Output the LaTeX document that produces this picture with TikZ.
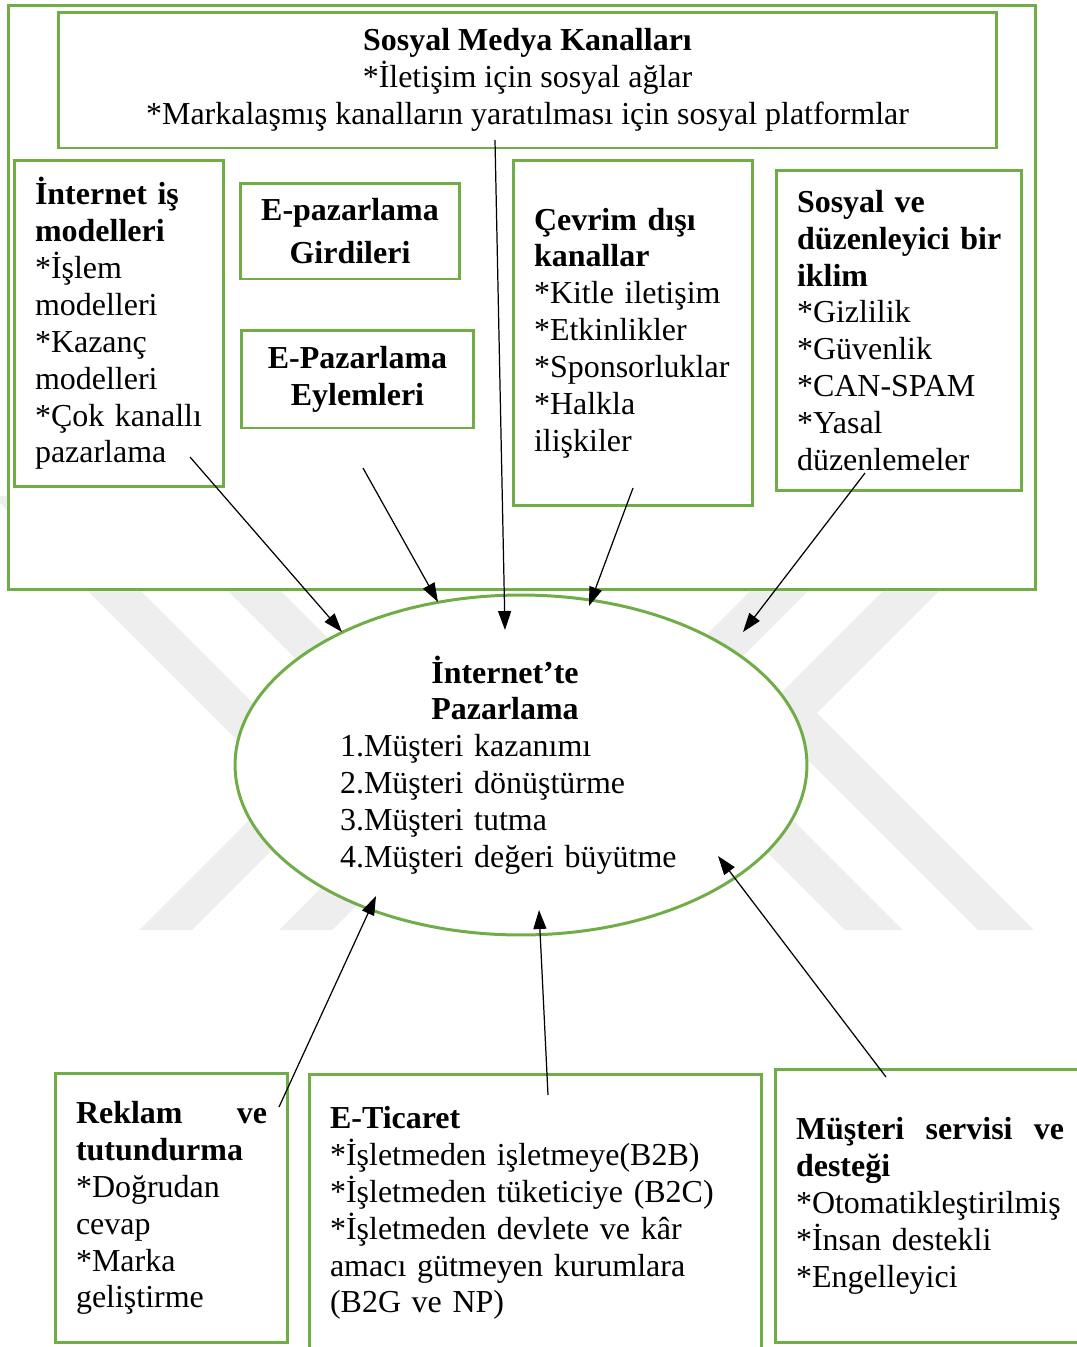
\documentclass[tikz,border=0pt]{standalone}
\usepackage{fontspec}
\setmainfont{Liberation Serif}
\usetikzlibrary{arrows.meta,shapes.geometric}
\definecolor{box_green}{RGB}{112,173,71}
\definecolor{mark_gray}{RGB}{238,238,238}

\begin{document}
\begin{tikzpicture}[x=0.02cm,y=-0.02cm,>={Triangle[length=0.38cm,width=0.26cm]}]
    \tikzstyle{box}=[draw=box_green, line width=1.7pt, fill=white, rectangle, inner ysep=0pt, text=black, font=\fontsize{18.2}{21}\selectfont]
    \tikzstyle{lbox}=[style=box, align=left, inner xsep=0.42cm]
    \tikzstyle{cbox}=[style=box, align=center]
    \tikzstyle{oval}=[style=box, ellipse, inner sep=0pt, align=left, text width=7.24cm]
    \tikzstyle{arr}=[->, black, line width=0.7pt]

    \useasboundingbox (0,0) rectangle (1077,1347);

    % watermark
    \fill[mark_gray] (-7,496) -- (283,786) -- (139,930) -- (192,930) -- (336,786) -- (46,496) -- cycle;
    \fill[mark_gray] (133,496) -- (423,786) -- (279,930) -- (332,930) -- (476,786) -- (186,496) -- cycle;
    \fill[mark_gray] (1034,496) -- (817,713) -- (1034,930) -- (978,930) -- (761,713) -- (978,496) -- cycle;
    \fill[mark_gray] (903,496) -- (686,713) -- (903,930) -- (845,930) -- (628,713) -- (845,496) -- cycle;

    \node[box, minimum width=20.56cm, minimum height=11.7cm] (frame) at (522,297.5) {};
    \node[cbox, minimum width=18.78cm, minimum height=2.72cm] (smk) at (527.5,80)
      {\textbf{Sosyal Medya Kanalları}\\{}*İletişim için sosyal ağlar\\{}*Markalaşmış kanalların yaratılması için sosyal platformlar};
    \node[lbox, text width=3.36cm, minimum height=6.54cm] (ism) at (119,323.5)
      {\textbf{İnternet iş}\\\textbf{modelleri}\\{}*İşlem\\modelleri\\{}*Kazanç\\modelleri\\{}*Çok kanallı\\pazarlama};
    \node[cbox, minimum width=4.4cm, minimum height=1.92cm] (gir) at (350,231)
      {\textbf{E-pazarlama}\\[3pt]\textbf{Girdileri}};
    \node[cbox, minimum width=4.66cm, minimum height=1.96cm] (eyl) at (357.5,379)
      {\textbf{E-Pazarlama}\\\textbf{Eylemleri}};
    \node[lbox, text width=3.96cm, minimum height=6.92cm] (cdk) at (633,333)
      {\textbf{Çevrim dışı}\\\textbf{kanallar}\\{}*Kitle iletişim\\{}*Etkinlikler\\{}*Sponsorluklar\\{}*Halkla\\ilişkiler};
    \node[lbox, text width=4.08cm, minimum height=6.42cm] (sdi) at (899,330.5)
      {\textbf{Sosyal ve}\\\mbox{\textbf{düzenleyici bir}}\\\textbf{iklim}\\{}*Gizlilik\\{}*Güvenlik\\{}*CAN-SPAM\\{}*Yasal\\düzenlemeler};

    \node[oval, minimum width=11.44cm, minimum height=6.8cm] (ipz) at (521,765)
      {\makebox[6.6cm]{\textbf{İnternet’te}}\\\makebox[6.6cm]{\textbf{Pazarlama}}\\1.Müşteri kazanımı\\2.Müşteri dönüştürme\\3.Müşteri tutma\\4.Müşteri değeri büyütme};

    \node[lbox, text width=3.82cm, minimum height=5.4cm] (rkt) at (171.5,1208)
      {\textbf{Reklam\hfill ve}\\\textbf{tutundurma}\\{}*Doğrudan\\cevap\\{}*Marka\\geliştirme};
    \node[lbox, text width=8.22cm, minimum height=5.56cm] (eti) at (535.5,1213)
      {\textbf{E-Ticaret}\\{}*İşletmeden işletmeye(B2B)\\{}*İşletmeden tüketiciye (B2C)\\{}*İşletmeden devlete ve kâr\\amacı gütmeyen kurumlara\\(B2G ve NP)};
    \node[lbox, text width=5.36cm, minimum height=5.48cm] (msd) at (930,1206)
      {\textbf{Müşteri\hfill servisi\hfill ve}\\\textbf{desteği}\\{}*Otomatikleştirilmiş\\{}*İnsan destekli\\{}*Engelleyici};

    \coordinate (s1) at (190,457);  \coordinate (e1) at (342,632);
    \coordinate (s2) at (363,468);  \coordinate (e2) at (438,602);
    \coordinate (s3) at (495,140);  \coordinate (e3) at (505,630);
    \coordinate (s4) at (633,488);  \coordinate (e4) at (589,606);
    \coordinate (s5) at (865,473);  \coordinate (e5) at (743,632);
    \coordinate (s6) at (279,1107); \coordinate (e6) at (376,896);
    \coordinate (s7) at (548,1095); \coordinate (e7) at (539,910);
    \coordinate (s8) at (886,1077); \coordinate (e8) at (718,856);
    \path
     (s1) edge[arr] (e1)
     (s2) edge[arr] (e2)
     (s3) edge[arr] (e3)
     (s4) edge[arr] (e4)
     (s5) edge[arr] (e5)
     (s6) edge[arr] (e6)
     (s7) edge[arr] (e7)
     (s8) edge[arr] (e8)
     ;
\end{tikzpicture}
\end{document}
